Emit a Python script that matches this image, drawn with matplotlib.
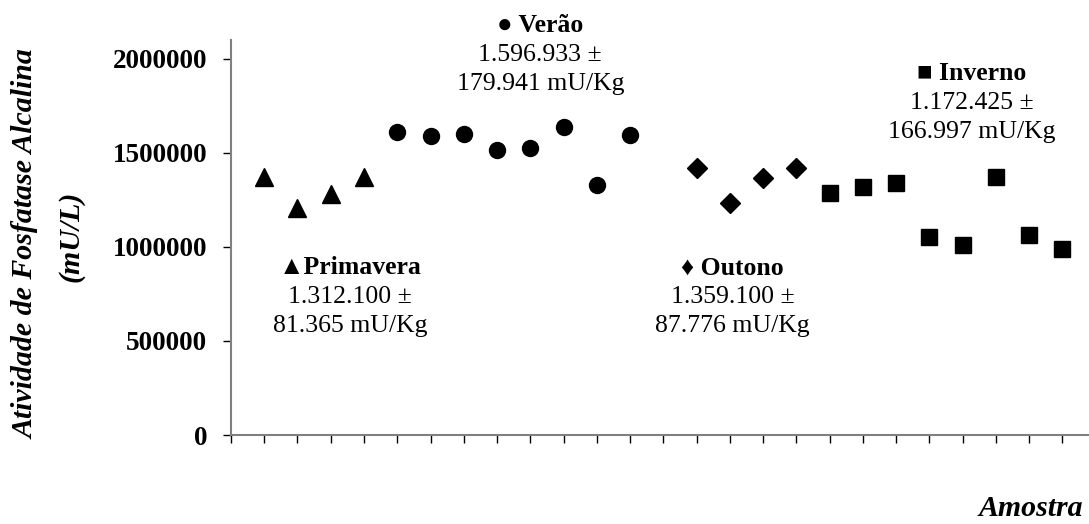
import matplotlib
matplotlib.use("Agg")
import matplotlib.pyplot as plt

# ------------------------------------------------------------------ #
# Data (sample index -> activity in mU/L)
# ------------------------------------------------------------------ #
x_primavera = [1, 2, 3, 4]
y_primavera = [1374000, 1209000, 1282000, 1374000]

x_verao = [5, 6, 7, 8, 9, 10, 11, 12]
y_verao = [1610000, 1590000, 1599000, 1516000, 1525000, 1640000, 1330000, 1596000]

x_outono = [14, 15, 16, 17]
y_outono = [1418000, 1232000, 1365000, 1418000]

x_inverno = [18, 19, 20, 21, 22, 23, 24, 25]
y_inverno = [1289000, 1321000, 1342000, 1052000, 1011000, 1374000, 1064000, 989000]

y_ticks = [0, 500000, 1000000, 1500000, 2000000]
x_ticks = list(range(0, 26))

# season labels: (title, mean line, sd line, x, y of title)
labels = [
    ("\u25b2Primavera", "1.312.100 \u00b1", "81.365 mU/Kg", 3.58, 888000),
    ("\u25cf Ver\u00e3o", "1.596.933 \u00b1", "179.941 mU/Kg", 9.3, 2176000),
    ("\u2666 Outono", "1.359.100 \u00b1", "87.776 mU/Kg", 15.08, 888000),
    ("\u25a0 Inverno", "1.172.425 \u00b1", "166.997 mU/Kg", 22.27, 1920000),
]

serif = ["Liberation Serif", "DejaVu Serif"]
plt.rcParams["font.family"] = serif

# ------------------------------------------------------------------ #
# Figure
# ------------------------------------------------------------------ #
fig = plt.figure(figsize=(10.89, 5.24), dpi=100)
ax = fig.add_axes([0.2121, 0.1698, 0.7879, 0.7539])

ax.plot(x_primavera, y_primavera, linestyle="none", marker="^", markersize=13.5, color="black")
ax.plot(x_verao, y_verao, linestyle="none", marker="o", markersize=11.5, color="black")
ax.plot(x_outono, y_outono, linestyle="none", marker="D", markersize=10.5, color="black")
ax.plot(x_inverno, y_inverno, linestyle="none", marker="s", markersize=12, color="black")

ax.set_xlim(0, 25.8)
ax.set_ylim(0, 2100000)
ax.set_xticks(x_ticks)
ax.set_xticklabels([])
ax.set_yticks(y_ticks)
ax.set_yticklabels([str(v) for v in y_ticks], fontsize=19.5, fontweight="bold")

for side in ["top", "right"]:
    ax.spines[side].set_visible(False)
for side in ["left", "bottom"]:
    ax.spines[side].set_color("#808080")
    ax.spines[side].set_linewidth(1.5)

ax.tick_params(axis="both", direction="out", length=6, width=1, color="black")
ax.tick_params(axis="y", pad=11)

# season annotations
for title, mean, sd, tx, ty in labels:
    ax.annotate(title, xy=(tx, ty), xytext=(0, 0), textcoords="offset points",
                ha="center", va="center", fontsize=18.5, fontweight="bold",
                annotation_clip=False)
    ax.annotate(mean, xy=(tx, ty), xytext=(0, -21), textcoords="offset points",
                ha="center", va="center", fontsize=18.5, annotation_clip=False)
    ax.annotate(sd, xy=(tx, ty), xytext=(0, -42), textcoords="offset points",
                ha="center", va="center", fontsize=18.5, annotation_clip=False)

# axis titles
fig.text(26 / 1089, 1 - 244 / 524, "Atividade de Fosfatase Alcalina", rotation=90,
         ha="center", va="center", fontsize=21.5, fontweight="bold", fontstyle="italic")
fig.text(71 / 1089, 1 - 236 / 524, "(mU/L)", rotation=90,
         ha="center", va="center", fontsize=21.5, fontweight="bold", fontstyle="italic")
fig.text(1083 / 1089, 1 - 508 / 524, "Amostra", ha="right", va="center",
         fontsize=21.5, fontweight="bold", fontstyle="italic")

fig.savefig("out.png", dpi=100)
